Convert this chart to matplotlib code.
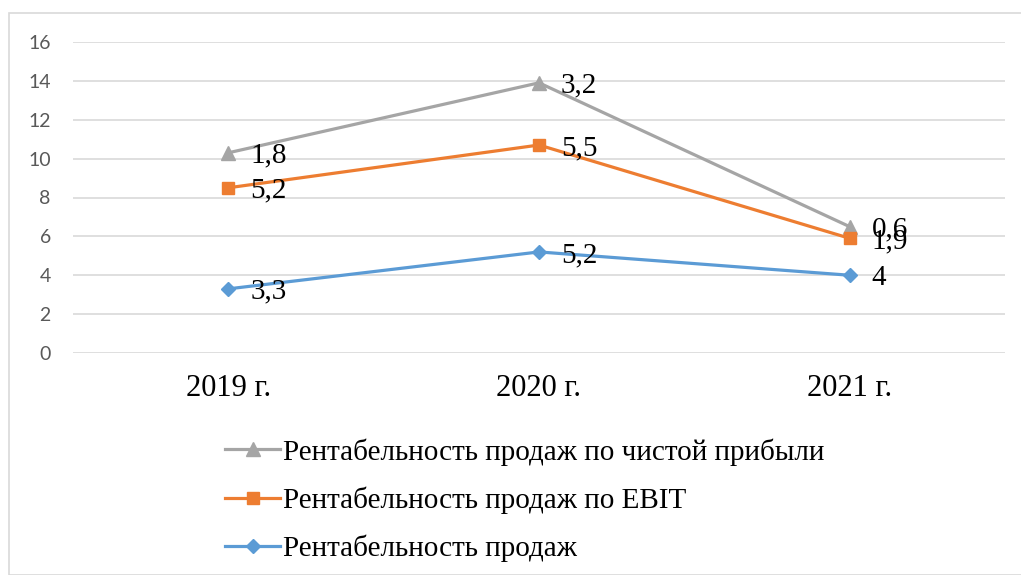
import matplotlib
matplotlib.use("Agg")
from matplotlib import pyplot as plt
from matplotlib.patches import Rectangle
import numpy as np

# data (stacked line chart, labels show each series' own value)
years = ["2019 г.", "2020 г.", "2021 г."]
sales = [3.3, 5.2, 4.0]
ebit = [5.2, 5.5, 1.9]
net = [1.8, 3.2, 0.6]
sales_lbl = ["3,3", "5,2", "4"]
ebit_lbl = ["5,2", "5,5", "1,9"]
net_lbl = ["1,8", "3,2", "0,6"]
names = ["Рентабельность продаж по чистой прибыли",
         "Рентабельность продаж по EBIT",
         "Рентабельность продаж"]

serif = ["Liberation Serif", "DejaVu Serif"]
x = np.arange(len(years))
s1 = np.array(sales)
s2 = s1 + np.array(ebit)
s3 = s2 + np.array(net)

fig = plt.figure(figsize=(10.21, 5.75), dpi=100)
fig.patches.append(Rectangle((9 / 1021, 0), 1.2, 1 - 13 / 575, transform=fig.transFigure,
                             fill=False, edgecolor="#D9D9D9", linewidth=1.2))
ax = fig.add_axes([73 / 1021, 1 - 353 / 575, 932 / 1021, 311 / 575])

h3, = ax.plot(x, s3, color="#A5A5A5", lw=2.3, marker="^", ms=10, zorder=3)
h2, = ax.plot(x, s2, color="#ED7D31", lw=2.3, marker="s", ms=8, zorder=4)
h1, = ax.plot(x, s1, color="#5B9BD5", lw=2.3, marker="D", ms=7, zorder=5)

for ys, lbls in [(s3, net_lbl), (s2, ebit_lbl), (s1, sales_lbl)]:
    for xi, yi, t in zip(x, ys, lbls):
        ax.annotate(t, (xi, yi), xytext=(22, -3), textcoords="offset pixels",
                    ha="left", va="center", fontsize=21, family=serif, color="black", zorder=6)

ax.set_xlim(-0.5, 2.5)
ax.set_ylim(0, 16)
ax.set_yticks(range(0, 17, 2))
ax.set_xticks(x)
ax.set_xticklabels(years, fontsize=22, family=serif)
ax.tick_params(axis="x", length=0, pad=15)
ax.tick_params(axis="y", length=0, pad=16, labelsize=14, labelcolor="#595959")
for lab in ax.get_yticklabels():
    lab.set_family(["Lato", "DejaVu Sans"])
ax.grid(axis="y", color="#D9D9D9", lw=1.2)
ax.set_axisbelow(True)
for sp in ax.spines.values():
    sp.set_visible(False)

fig.legend([h3, h2, h1], names, loc="upper left", bbox_to_anchor=(225 / 1021, 1 - 438 / 575),
           frameon=False, prop={"family": serif, "size": 21}, handlelength=1.9,
           handletextpad=0.1, labelspacing=0.72, borderpad=0, borderaxespad=0)

plt.savefig("out.png", dpi=100)
